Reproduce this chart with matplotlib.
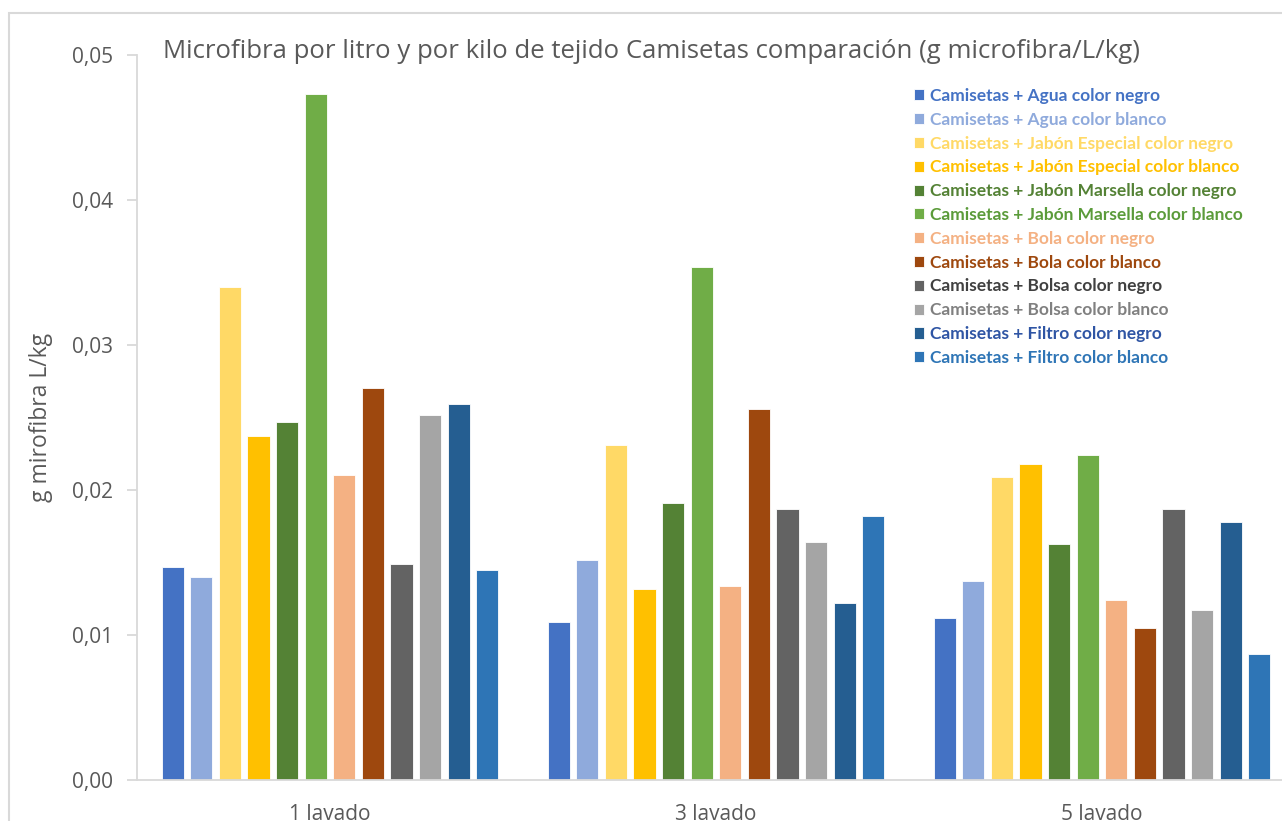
import numpy as np
import matplotlib
matplotlib.use('Agg')
import matplotlib.pyplot as plt
from matplotlib.patches import Rectangle

# Data: grams of microfibre per litre per kg of fabric
lavados = ['1 lavado', '3 lavado', '5 lavado']

series_names = [
    'Camisetas + Agua color negro',
    'Camisetas + Agua color blanco',
    'Camisetas + Jabón Especial color negro',
    'Camisetas + Jabón Especial color blanco',
    'Camisetas + Jabón Marsella color negro',
    'Camisetas + Jabón Marsella color blanco',
    'Camisetas + Bola color negro',
    'Camisetas + Bola color blanco',
    'Camisetas + Bolsa color negro',
    'Camisetas + Bolsa color blanco',
    'Camisetas + Filtro color negro',
    'Camisetas + Filtro color blanco',
]

agua_negro = [0.0147, 0.0109, 0.0112]
agua_blanco = [0.0140, 0.0152, 0.0137]
jabon_esp_negro = [0.0340, 0.0231, 0.0209]
jabon_esp_blanco = [0.0237, 0.0132, 0.0218]
marsella_negro = [0.0247, 0.0191, 0.0163]
marsella_blanco = [0.0473, 0.0354, 0.0224]
bola_negro = [0.0210, 0.0134, 0.0124]
bola_blanco = [0.0270, 0.0256, 0.0105]
bolsa_negro = [0.0149, 0.0187, 0.0187]
bolsa_blanco = [0.0252, 0.0164, 0.0117]
filtro_negro = [0.0259, 0.0122, 0.0178]
filtro_blanco = [0.0145, 0.0182, 0.0087]

series_values = [agua_negro, agua_blanco, jabon_esp_negro, jabon_esp_blanco,
                 marsella_negro, marsella_blanco, bola_negro, bola_blanco,
                 bolsa_negro, bolsa_blanco, filtro_negro, filtro_blanco]

bar_colors = ['#4472C4', '#8FAADC', '#FFD966', '#FFC000', '#548235', '#70AD47',
              '#F4B183', '#9E480E', '#636363', '#A5A5A5', '#255E91', '#2E75B6']
text_colors = ['#4472C4', '#8FAADC', '#FFD966', '#FFC000', '#548235', '#5B9B3A',
               '#F4B183', '#9E480E', '#404040', '#808080', '#2F55A4', '#2E75B6']

plt.rcParams['font.family'] = ['Open Sans', 'DejaVu Sans']

W, H = 1282, 821
fig = plt.figure(figsize=(W / 100, H / 100), dpi=100)

# outer chart frame (runs off the right and bottom edges)
fig.patches.append(Rectangle((9 / W, -0.1), 1.2, (H - 13) / H + 0.1,
                             transform=fig.transFigure, fill=False,
                             edgecolor='#D9D9D9', linewidth=1.5))

ax_left, ax_right = 137, 137 + 3 * 386
ax_bottom, ax_top = 780, 55
ax = fig.add_axes([ax_left / W, (H - ax_bottom) / H,
                   (ax_right - ax_left) / W, (ax_bottom - ax_top) / H])

x = np.arange(len(lavados))
pitch = 28.6 / 386
width = 22.3 / 386
n = len(series_values)
for i, (vals, col, name) in enumerate(zip(series_values, bar_colors, series_names)):
    ax.bar(x + (i - (n - 1) / 2) * pitch, vals, width=width, color=col,
           edgecolor='white', linewidth=0.6, label=name, zorder=2)

ax.set_xlim(-0.5, len(lavados) - 0.5)
ax.set_ylim(0, 0.05)
ax.set_yticks(np.arange(0, 0.0501, 0.01))
ax.set_yticklabels([f'{v:.2f}'.replace('.', ',') for v in np.arange(0, 0.0501, 0.01)])
ax.set_xticks(x)
ax.set_xticklabels(lavados)

for side in ['top', 'right']:
    ax.spines[side].set_visible(False)
for side in ['left', 'bottom']:
    ax.spines[side].set_color('#D9D9D9')
    ax.spines[side].set_linewidth(1.3)
ax.tick_params(axis='y', length=7, width=1.3, color='#D9D9D9',
               labelsize=15, labelcolor='#595959', pad=10)
ax.tick_params(axis='x', length=0, labelsize=15, labelcolor='#595959', pad=17)

ax.set_ylabel('g mirofibra L/kg', fontsize=16.5, color='#595959', labelpad=14)

fig.text(163 / W, (H - 52) / H,
         'Microfibra por litro y por kilo de tejido Camisetas comparación (g microfibra/L/kg)',
         fontsize=18.5, color='#595959', va='center', ha='left')

leg = ax.legend(loc='upper left', bbox_to_anchor=((914 - ax_left) / (ax_right - ax_left),
                                                  (ax_bottom - 88) / (ax_bottom - ax_top)),
                frameon=False, handlelength=0.6, handleheight=0.6, handletextpad=0.35,
                labelspacing=0.45, borderaxespad=0, borderpad=0,
                prop={'family': ['Lato', 'DejaVu Sans'], 'weight': 'bold', 'size': 12.5})
for txt, col in zip(leg.get_texts(), text_colors):
    txt.set_color(col)

fig.savefig('out.png', dpi=100)
